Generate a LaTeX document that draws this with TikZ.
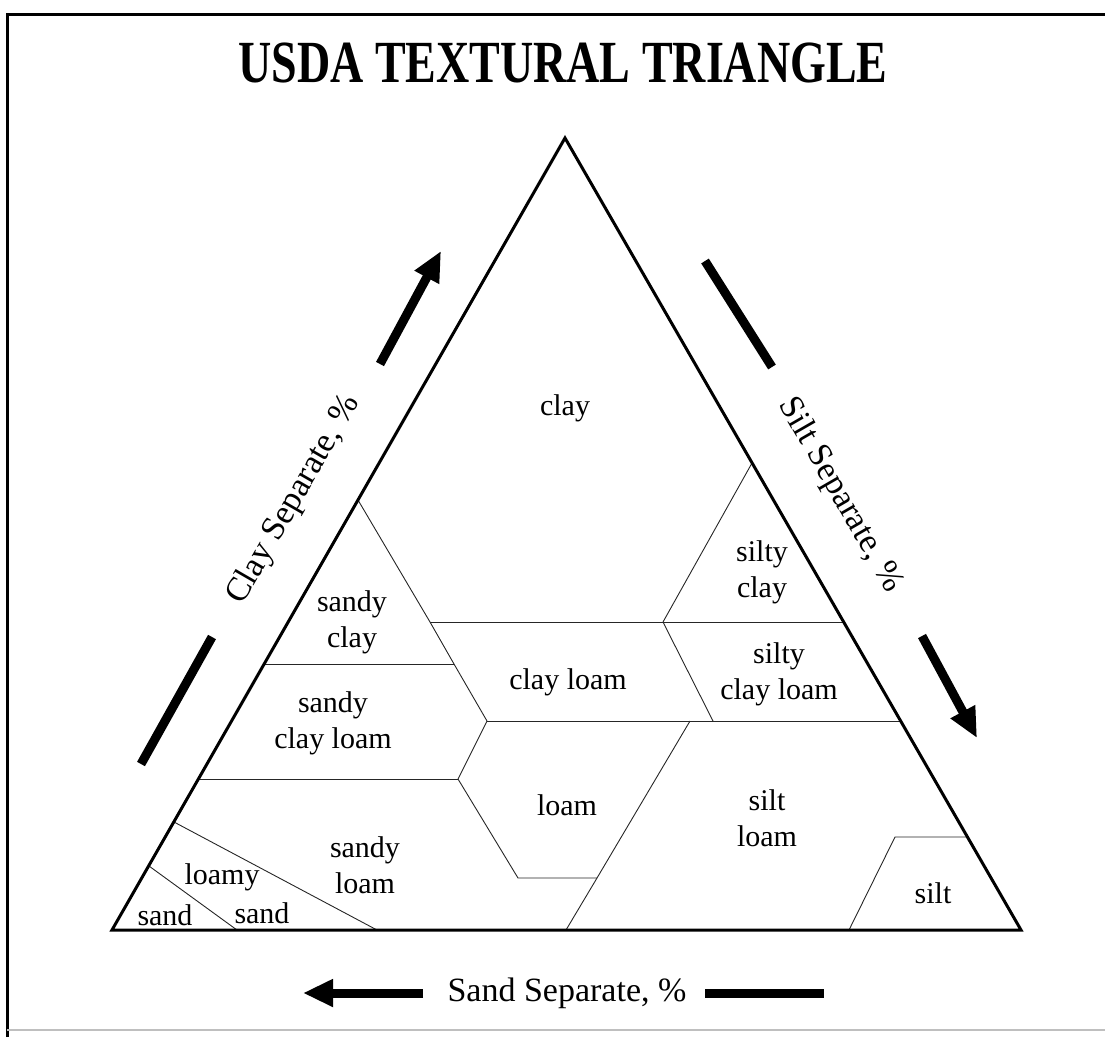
\documentclass[tikz,border=0pt]{standalone}
\usepackage{fontspec}
\setmainfont{Liberation Serif}
\usetikzlibrary{arrows.meta}

\begin{document}
\begin{tikzpicture}[
    x=1pt, y=-1pt,
    >={Triangle[length=30pt,width=26pt]},
    edge/.style={line width=3pt, line join=miter},
    divide/.style={line width=0.9pt, draw=black!85},
    soil/.style={font=\fontsize{30}{36}\selectfont, align=center, inner sep=0pt},
    axis/.style={font=\fontsize{34}{40}\selectfont, inner sep=0pt},
    bar/.style={line width=9pt},
    frame/.style={line width=3pt}
  ]
  \useasboundingbox (0,0) rectangle (1105,1037);

  % outer frame
  \draw[frame] (7,1037) -- (7,14) -- (1105,14);
  \draw[gray!50, line width=1.5pt] (7,1030) -- (1105,1030);

  \node[font=\fontsize{46}{50}\selectfont\bfseries] (title) at (563,63) {\scalebox{1}[1.3]{USDA TEXTURAL TRIANGLE}};

  % triangle corners
  \coordinate (top) at (565,138);
  \coordinate (bl) at (112,930);
  \coordinate (br) at (1021,930);

  % class boundaries
  \coordinate (sc1) at (358,500);
  \coordinate (cl1) at (430,622);
  \coordinate (sc2) at (454,664);
  \coordinate (cl2) at (487,721);
  \coordinate (sc3) at (264,664);
  \coordinate (sic1) at (663,622);
  \coordinate (sic2) at (752,463);
  \coordinate (sicl1) at (844,622);
  \coordinate (sicl2) at (713,721);
  \coordinate (sicl3) at (901,721);
  \coordinate (lo1) at (458,779);
  \coordinate (scl1) at (198,779);
  \coordinate (lo2) at (518,878);
  \coordinate (lo3) at (597,878);
  \coordinate (lo4) at (690,721);
  \coordinate (lo5) at (566,930);
  \coordinate (ls1) at (174,822);
  \coordinate (ls2) at (377,930);
  \coordinate (s1) at (149,866);
  \coordinate (s2) at (237,930);
  \coordinate (si1) at (895,837);
  \coordinate (si2) at (967,837);
  \coordinate (si3) at (849,930);

  \draw[divide] (sc1) -- (cl1) -- (sc2) -- (cl2);
  \draw[divide] (sc3) -- (sc2);
  \draw[divide] (cl1) -- (sicl1);
  \draw[divide] (sic2) -- (sic1) -- (sicl2);
  \draw[divide] (cl2) -- (sicl3);
  \draw[divide] (cl2) -- (lo1) -- (lo2) -- (lo3);
  \draw[divide] (scl1) -- (lo1);
  \draw[divide] (lo4) -- (lo3) -- (lo5);
  \draw[divide] (ls1) -- (ls2);
  \draw[divide] (s1) -- (s2);
  \draw[divide] (si3) -- (si1) -- (si2);
  \draw[edge] (top) -- (bl) -- (br) -- cycle;

  % class names
  \node[soil] (clay) at (565,408) {clay};
  \node[soil] (sandyclay) at (352,622) {sandy\\clay};
  \node[soil] (sandyclayloam) at (333,723) {sandy\\clay loam};
  \node[soil] (clayloam) at (568,682) {clay loam};
  \node[soil] (siltyclay) at (762,572) {silty\\clay};
  \node[soil] (siltyclayloam) at (779,674) {silty\\clay loam};
  \node[soil] (loam) at (567,805) {loam};
  \node[soil] (siltloam) at (767,818) {silt\\loam};
  \node[soil] (silt) at (933,893) {silt};
  \node[soil] (sandyloam) at (365,865) {sandy\\loam};
  \node[soil] (loamy) at (222,877) {loamy};
  \node[soil] (loamysand) at (262,913) {sand};
  \node[soil] (sand) at (165,915) {sand};

  % axis arrows and names
  \coordinate (clayA) at (380,364);
  \coordinate (clayB) at (441,251);
  \coordinate (clayC) at (212,637);
  \coordinate (clayD) at (141,764);
  \draw[bar, ->] (clayA) -- (clayB);
  \draw[bar] (clayC) -- (clayD);
  \node[axis, rotate=60] (clayname) at (294,500) {Clay Separate, \%};

  \coordinate (siltA) at (705,261);
  \coordinate (siltB) at (772,367);
  \coordinate (siltC) at (922,636);
  \coordinate (siltD) at (977,738);
  \draw[bar] (siltA) -- (siltB);
  \draw[bar, ->] (siltC) -- (siltD);
  \node[axis, rotate=-60] (siltname) at (840,495) {Silt Separate, \%};

  \coordinate (sandA) at (423,993);
  \coordinate (sandB) at (303,993);
  \coordinate (sandC) at (705,993);
  \coordinate (sandD) at (824,993);
  \draw[bar, ->] (sandA) -- (sandB);
  \draw[bar] (sandC) -- (sandD);
  \node[axis] (sandname) at (567,993) {Sand Separate, \%};
\end{tikzpicture}
\end{document}
